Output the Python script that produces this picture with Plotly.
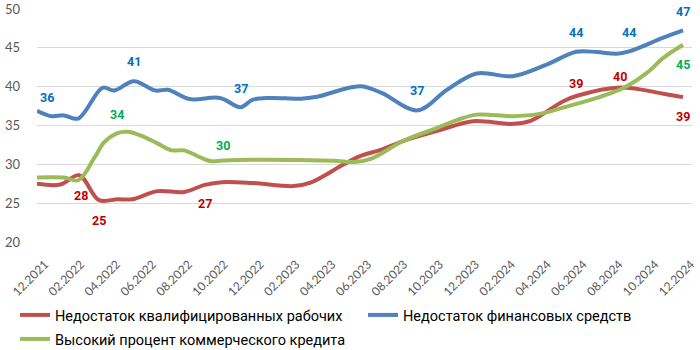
import plotly.graph_objects as go

# ---- data (x = months since 12.2021) ----
tick_labels = ["12.2021", "02.2022", "04.2022", "06.2022", "08.2022", "10.2022",
               "12.2022", "02.2023", "04.2023", "06.2023", "08.2023", "10.2023",
               "12.2023", "02.2024", "04.2024", "06.2024", "08.2024", "10.2024", "12.2024"]
tick_months = [0, 2, 4, 6, 8, 10, 12, 14, 16, 18, 20, 22, 24, 26, 28, 30, 32, 34, 36]

series_names = ["Недостаток квалифицированных рабочих",
                "Недостаток финансовых средств",
                "Высокий процент коммерческого кредита"]

red_x = [0, 1.3, 2.35, 3.45, 4.5, 5.3, 6.7, 8.2, 9.35, 10.3, 12.0, 14.3, 15.2, 17.1,
         18.0, 19.2, 20.4, 22.3, 24.3, 26.4, 27.5, 29.3, 30.05, 32.5, 34.9, 36]
red_y = [27.5, 27.4, 28.6, 25.4, 25.5, 25.5, 26.55, 26.45, 27.35, 27.7, 27.6, 27.2, 27.6, 30.0,
         31.05, 31.9, 33.0, 34.3, 35.55, 35.2, 35.6, 38.1, 38.8, 39.9, 39.1, 38.65]

blue_x = [0, 0.8, 1.5, 2.3, 3.65, 4.3, 5.4, 6.6, 7.3, 8.5, 10.2, 11.35, 12.0, 13.0, 14.7,
          15.6, 18.0, 19.2, 21.2, 22.85, 24.5, 26.5, 28.4, 30.05, 31.2, 32.3, 33.0, 34.9, 36]
blue_y = [36.9, 36.2, 36.3, 35.9, 39.85, 39.5, 40.7, 39.5, 39.6, 38.4, 38.55, 37.35, 38.3, 38.55, 38.45,
          38.7, 40.05, 39.2, 36.95, 39.6, 41.7, 41.35, 42.85, 44.5, 44.45, 44.25, 44.55, 46.3, 47.25]

green_x = [0, 1.5, 2.3, 3.2, 3.75, 4.45, 5.05, 5.8, 6.7, 7.5, 8.2, 9.0, 9.7, 10.35, 12.0,
           16.5, 17.7, 18.6, 20.4, 22.3, 23.4, 24.5, 26.5, 28.0, 29.3, 31.2, 32.7, 34.0, 34.9, 36]
green_y = [28.3, 28.3, 27.95, 30.85, 32.85, 34.0, 34.2, 33.7, 32.7, 31.8, 31.8, 31.0, 30.4, 30.5, 30.6,
           30.45, 30.3, 30.7, 33.0, 34.7, 35.7, 36.4, 36.2, 36.5, 37.3, 38.55, 39.85, 41.8, 43.7, 45.4]

# data labels: (knot index, text)
red_labels = [(2, "28"), (3, "25"), (8, "27"), (22, "39"), (23, "40"), (25, "39")]
blue_labels = [(0, "36"), (6, "41"), (11, "37"), (18, "37"), (23, "44"), (26, "44"), (28, "47")]
green_labels = [(5, "34"), (13, "30"), (29, "45")]

# ---- styles ----
line_colors = ["#C0504D", "#4F81BD", "#9BBB59"]
label_colors = ["#C00000", "#0070C0", "#00B050"]
# label pixel offsets (dx, dy up)
red_off = [(2, -20), (0, -20), (0, -19), (0, 12), (0, 11), (0, -19)]
blue_off = [(10, 13), (0, 20), (0, 19), (0, 20), (0, 19), (0, 19), (0, 19)]
green_off = [(0, 19), (0, 15), (0, -20)]
legend_ids = ["legend", "legend2", "legend3"]
legend_pos = [(15, 299), (363, 299), (15, 323)]  # container px (left, top)

narrow = "Roboto, sans-serif"
tickfont = "Lato, Carlito, Calibri, sans-serif"

fig = go.Figure()
all_x = [red_x, blue_x, green_x]
all_y = [red_y, blue_y, green_y]
for i in range(3):
    fig.add_trace(go.Scatter(
        x=all_x[i], y=all_y[i], mode="lines", name=series_names[i],
        line=dict(color=line_colors[i], width=4, shape="spline", smoothing=1.0),
        legend=legend_ids[i], hoverinfo="skip"))

annotations = []
for si, (labs, offs) in enumerate([(red_labels, red_off), (blue_labels, blue_off), (green_labels, green_off)]):
    for (k, txt), (dx, dy) in zip(labs, offs):
        annotations.append(dict(
            x=all_x[si][k], y=all_y[si][k], xref="x", yref="y", text=txt,
            showarrow=False, xshift=dx, yshift=dy,
            font=dict(family=narrow, size=12.5, color=label_colors[si], weight="bold")))

legends = {}
for lid, (lx, ly) in zip(legend_ids, legend_pos):
    legends[lid] = dict(orientation="h", xref="container", yref="container",
                        x=lx / 700, xanchor="left", y=1 - ly / 350, yanchor="top",
                        font=dict(family=narrow, size=14.5, color="#000000"),
                        itemwidth=30, bgcolor="rgba(0,0,0,0)")

fig.update_layout(
    width=700, height=350,
    margin=dict(l=37, r=8, t=9, b=108, autoexpand=False),
    paper_bgcolor="white", plot_bgcolor="white",
    showlegend=True,
    annotations=annotations,
    xaxis=dict(range=[0, 36.5], tickmode="array", tickvals=tick_months, ticktext=tick_labels,
               tickangle=-45, showgrid=False, zeroline=False, showline=False, ticks="",
               tickfont=dict(family=tickfont, size=12, color="#595959"),
               ticklabelstandoff=12, ticklabelshift=8, automargin=False),
    yaxis=dict(range=[20, 50], dtick=5, tick0=20, showgrid=True, gridcolor="#D9D9D9", gridwidth=1,
               zeroline=False, showline=False, ticks="",
               tickfont=dict(family=tickfont, size=13, color="#595959"),
               ticklabelstandoff=16, automargin=False),
    **legends,
)

fig.write_html("out.html")
